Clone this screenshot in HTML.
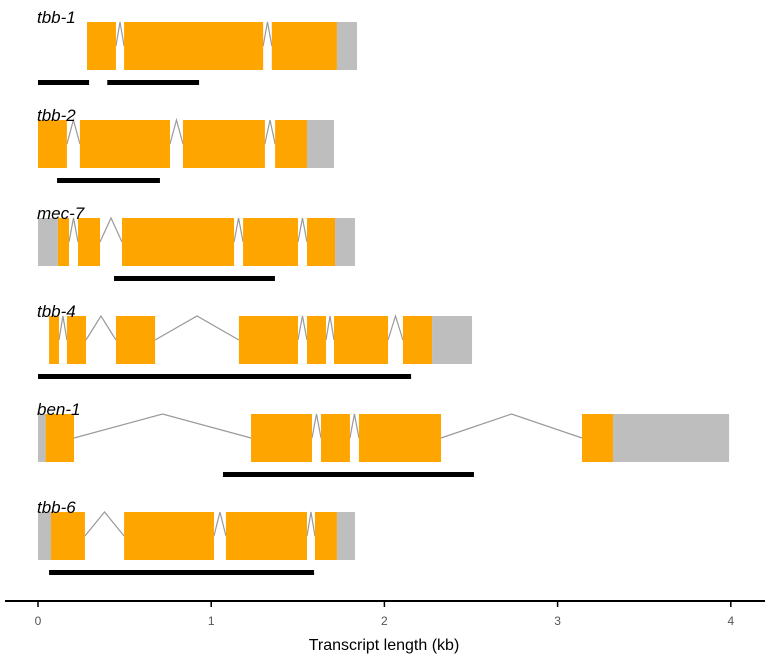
<!DOCTYPE html>
<html><head><meta charset="utf-8"><style>
body{margin:0;background:#fff;width:768px;height:661px;overflow:hidden}
svg{font-family:"Liberation Sans",sans-serif}
</style></head><body>
<svg id="chart" width="768" height="661" viewBox="0 0 768 661"></svg>
<script>
const genes = ["tbb-1","tbb-2","mec-7","tbb-4","ben-1","tbb-6"];
const exonsTbb1 = [[0.283,0.45,"c"],[0.497,1.30,"c"],[1.35,1.726,"c"],[1.726,1.842,"u"]];
const exonsTbb2 = [[0,0.167,"c"],[0.242,0.762,"c"],[0.837,1.31,"c"],[1.369,1.553,"c"],[1.553,1.709,"u"]];
const exonsMec7 = [[0,0.115,"u"],[0.115,0.179,"c"],[0.231,0.358,"c"],[0.485,1.132,"c"],[1.184,1.501,"c"],[1.553,1.715,"c"],[1.715,1.83,"u"]];
const exonsTbb4 = [[0.064,0.121,"c"],[0.167,0.277,"c"],[0.45,0.676,"c"],[1.16,1.501,"c"],[1.553,1.663,"c"],[1.709,2.021,"c"],[2.107,2.275,"c"],[2.275,2.506,"u"]];
const exonsBen1 = [[0,0.044,"u"],[0.044,0.208,"c"],[1.23,1.582,"c"],[1.634,1.801,"c"],[1.853,2.327,"c"],[3.141,3.32,"c"],[3.32,3.99,"u"]];
const exonsTbb6 = [[0,0.075,"u"],[0.075,0.271,"c"],[0.497,1.016,"c"],[1.085,1.553,"c"],[1.599,1.726,"c"],[1.726,1.83,"u"]];
const exonSets = [exonsTbb1,exonsTbb2,exonsMec7,exonsTbb4,exonsBen1,exonsTbb6];
const bars = [[[0,0.295],[0.40,0.93]],[[0.11,0.704]],[[0.439,1.368]],[[0,2.154]],[[1.068,2.517]],[[0.064,1.594]]];
const ticks = [0,1,2,3,4];

const NS="http://www.w3.org/2000/svg";
const svg=document.getElementById('chart');
const X=v=>38+v*173.2;
const rowTop=i=>22+i*98;
function mk(t,a,p){const e=document.createElementNS(NS,t);for(const k in a)e.setAttribute(k,a[k]);(p||svg).appendChild(e);return e;}

genes.forEach((g,i)=>{
  const top=rowTop(i),h=48,mid=top+h/2;
  const grp=mk('g',{});
  
  
  const ex=exonSets[i];
  for(let k=0;k<ex.length-1;k++){
    const a=ex[k][1],b=ex[k+1][0];
    if(b-a>0.001){
      const pm=(a+b)/2;
      const ln=mk('polyline',{points:`${X(a)},${mid} ${X(pm)},${top} ${X(b)},${mid}`,fill:'none',stroke:'#9a9a9a','stroke-width':1.2},grp);
      
      
    }
  }
  ex.forEach(e=>{
    const r=mk('rect',{x:X(e[0]),y:top,width:X(e[1])-X(e[0]),height:h,fill:e[2]==='c'?'#FFA500':'#BEBEBE'},grp);
    
    
  });
  bars[i].forEach(b=>{
    const r=mk('rect',{x:X(b[0]),y:top+58,width:X(b[1])-X(b[0]),height:5,fill:'#000'},grp);
    
    
  });
  const t=mk('text',{x:37,y:top+1,'font-size':17,'font-style':'italic',fill:'#000'},grp);
  t.textContent=g;
  
  
});

const ax=mk('line',{x1:5,x2:765,y1:601,y2:601,stroke:'#000','stroke-width':2});


ticks.forEach(v=>{
  const tk=mk('line',{x1:X(v),x2:X(v),y1:601,y2:607,stroke:'#000','stroke-width':1.5});
  
  
  const tl=mk('text',{x:X(v),y:625,'font-size':12,fill:'#555','text-anchor':'middle'});
  tl.textContent=v;
  
  
});
const tt=mk('text',{x:384,y:650,'font-size':16,fill:'#000','text-anchor':'middle'});
tt.textContent='Transcript length (kb)';


</script>
</body></html>
